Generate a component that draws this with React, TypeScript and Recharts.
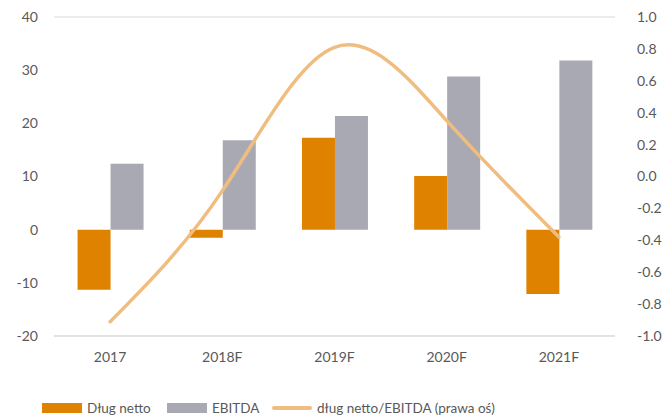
import { ComposedChart, Bar, Line, XAxis, YAxis, CartesianGrid, Legend } from 'recharts'

const years = ['2017', '2018F', '2019F', '2020F', '2021F']
const netDebt = [-11.3, -1.5, 17.3, 10.1, -12.1]
const ebitda = [12.4, 16.8, 21.4, 28.8, 31.8]
const ratio = [-0.91, -0.09, 0.81, 0.35, -0.38]

const leftTicks = [-20, -10, 0, 10, 20, 30, 40]
const rightTicks = [-1, -0.8, -0.6, -0.4, -0.2, 0, 0.2, 0.4, 0.6, 0.8, 1]

const data = years.map((year, i) => ({
  year,
  netDebt: netDebt[i],
  ebitda: ebitda[i],
  ratio: ratio[i],
}))

const ORANGE = '#DF8200'
const GREY = '#A9A9B3'
const LINE = '#F0BD80'
const TEXT = '#595959'
const FONT = 'Lato, "Open Sans", sans-serif'

function LegendContent() {
  const items = [
    { label: 'Dług netto', color: ORANGE, kind: 'rect', w: 125 },
    { label: 'EBITDA', color: GREY, kind: 'rect', w: 105 },
    { label: 'dług netto/EBITDA (prawa oś)', color: LINE, kind: 'line', w: 240 },
  ]
  return (
    <div
      style={{
        display: 'flex',
        paddingTop: 22,
        paddingLeft: 42,
        fontFamily: FONT,
        fontSize: 13.5,
        lineHeight: '20px',
        color: TEXT,
      }}
    >
      {items.map((it) => (
        <div key={it.label} style={{ display: 'flex', alignItems: 'center', gap: 5, width: it.w, whiteSpace: 'nowrap' }}>
          {it.kind === 'rect' ? (
            <div style={{ width: 40, height: 10, background: it.color, flexShrink: 0 }} />
          ) : (
            <div style={{ width: 40, height: 4, borderRadius: 2, background: it.color, flexShrink: 0 }} />
          )}
          <span>{it.label}</span>
        </div>
      ))}
    </div>
  )
}

export default function App() {
  return (
    <div style={{ position: 'absolute', left: 0, top: 0, background: '#fff' }}>
      <ComposedChart
        width={666}
        height={417}
        data={data}
        margin={{ top: 17, right: 0, bottom: 0, left: 0 }}
        barGap={0}
        barCategoryGap="21%"
      >
        <CartesianGrid vertical={false} stroke="#D9D9D9" strokeWidth={1} />
        <XAxis
          dataKey="year"
          tickLine={false}
          axisLine={{ stroke: '#D9D9D9' }}
          tick={{ fill: TEXT, fontSize: 14, fontFamily: FONT }}
          tickMargin={10}
          height={40}
        />
        <YAxis
          yAxisId="left"
          domain={[-20, 40]}
          ticks={leftTicks}
          tickLine={false}
          axisLine={false}
          width={54}
          tick={{ fill: TEXT, fontSize: 14, fontFamily: FONT, dx: -8 }}
        />
        <YAxis
          yAxisId="right"
          orientation="right"
          domain={[-1, 1]}
          ticks={rightTicks}
          tickFormatter={(v: number) => v.toFixed(1)}
          tickLine={false}
          axisLine={false}
          width={51}
          tick={{ fill: TEXT, fontSize: 14, fontFamily: FONT, dx: 14 }}
        />
        <Legend verticalAlign="bottom" height={41} content={<LegendContent />} />
        <Bar yAxisId="left" dataKey="netDebt" name="Dług netto" fill={ORANGE} isAnimationActive={false} />
        <Bar yAxisId="left" dataKey="ebitda" name="EBITDA" fill={GREY} isAnimationActive={false} />
        <Line
          yAxisId="right"
          type="natural"
          dataKey="ratio"
          name="dług netto/EBITDA (prawa oś)"
          stroke={LINE}
          strokeWidth={3.5}
          dot={false}
          strokeLinecap="round"
          isAnimationActive={false}
        />
      </ComposedChart>
    </div>
  )
}
